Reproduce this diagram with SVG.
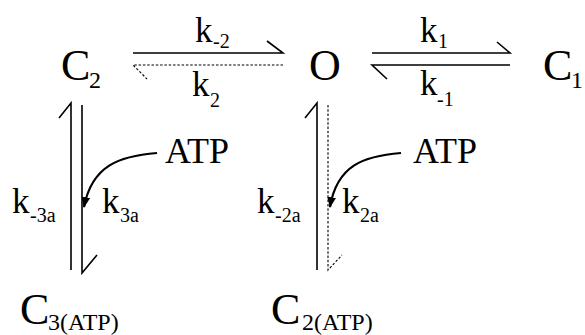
<svg xmlns="http://www.w3.org/2000/svg" width="585" height="335" viewBox="0 0 585 335">
<style>
text{font-family:'Times New Roman','Liberation Serif',serif;fill:#000}
.big{font-size:44px}
.sb{font-size:24px}
.k{font-size:35px}
.ks{font-size:20px}
.at{font-size:36px}
.ln{stroke:#000;stroke-width:1.6;fill:none}
.ds{stroke:#000;stroke-width:1.1;fill:none;stroke-dasharray:2.5 1.8}
.cv{stroke:#000;stroke-width:2.2;fill:none}
</style>
<defs>
<marker id="ah" viewBox="0 0 10 10" refX="9" refY="5" markerWidth="5" markerHeight="5" orient="auto" markerUnits="strokeWidth">
<path d="M0,1 L10,5 L0,9 Z" fill="#000"/>
</marker>
</defs>
<rect width="585" height="335" fill="#fff"/>
<g id="node-C2"><text class="big" x="61" y="80">C</text><text class="sb" x="89" y="88">2</text></g>
<g id="node-O"><text class="big" x="309" y="80">O</text></g>
<g id="node-C1"><text class="big" x="543" y="80">C</text><text class="sb" x="571" y="88">1</text></g>
<g id="node-C3ATP"><text class="big" x="20" y="324">C</text><text class="sb" x="48" y="330">3(ATP)</text></g>
<g id="node-C2ATP"><text class="big" x="271" y="324">C</text><text class="sb" x="302" y="330">2(ATP)</text></g>
<g id="node-ATP1"><text class="at" x="165" y="163">ATP</text></g>
<g id="node-ATP2"><text class="at" x="413" y="163">ATP</text></g>
<g id="connectors">
<path class="ln" d="M133,53 H283 L267,41"/>
<path class="ds" d="M283,65 H133 L147,79"/>
<path class="ln" d="M372,53 H510 L497,42"/>
<path class="ln" d="M510,65 H372 L387,79"/>
<path class="ln" d="M71,270 V103 L59,118"/>
<path class="ln" d="M82,105 V273 L97,255"/>
<path class="ln" d="M317,270 V103 L305,118"/>
<path class="ds" d="M328,105 V270 L342,255"/>
<path class="cv" d="M157,153 C120,156 92,165 84,207" marker-end="url(#ah)"/>
<path class="cv" d="M401,153 C364,156 337,165 330,207" marker-end="url(#ah)"/>
</g>
<g id="labels">
<text class="k" x="195" y="42">k</text><text class="ks" x="213" y="48">-2</text>
<text class="k" x="192" y="96">k</text><text class="ks" x="210" y="107">2</text>
<text class="k" x="420" y="42">k</text><text class="ks" x="438" y="48">1</text>
<text class="k" x="420" y="95">k</text><text class="ks" x="437" y="106">-1</text>
<text class="k" x="12" y="213">k</text><text class="ks" x="30" y="222">-3a</text>
<text class="k" x="102" y="213">k</text><text class="ks" x="120" y="222">3a</text>
<text class="k" x="257" y="213">k</text><text class="ks" x="275" y="222">-2a</text>
<text class="k" x="342" y="213">k</text><text class="ks" x="360" y="222">2a</text>
</g>
</svg>
